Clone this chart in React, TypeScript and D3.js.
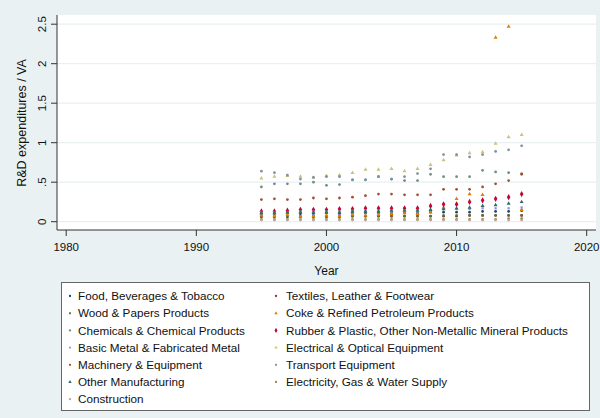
import * as d3 from "d3";

const years = [1995, 1996, 1997, 1998, 1999, 2000, 2001, 2002, 2003, 2004, 2005, 2006, 2007, 2008, 2009, 2010, 2011, 2012, 2013, 2014, 2015];

const food = [0.10, 0.10, 0.11, 0.10, 0.10, 0.11, 0.10, 0.11, 0.11, 0.11, 0.11, 0.11, 0.11, 0.12, 0.12, 0.12, 0.12, 0.13, 0.13, 0.13, 0.14];
const textiles = [0.06, 0.06, 0.06, 0.06, 0.06, 0.06, 0.06, 0.07, 0.07, 0.07, 0.07, 0.07, 0.07, 0.07, 0.07, 0.07, 0.08, 0.08, 0.08, 0.08, 0.08];
const wood = [0.07, 0.07, 0.07, 0.07, 0.07, 0.07, 0.07, 0.07, 0.07, 0.07, 0.07, 0.07, 0.07, 0.07, 0.08, 0.08, 0.08, 0.08, 0.08, 0.08, 0.08];
const coke = [0.08, 0.07, 0.09, 0.06, 0.07, 0.08, 0.07, 0.09, 0.08, 0.09, 0.10, 0.11, 0.10, 0.12, 0.18, 0.29, 0.35, 0.34, 2.33, 2.47, 0.15];
const chemicals = [0.44, 0.48, 0.48, 0.48, 0.50, 0.46, 0.47, 0.53, 0.53, 0.57, 0.54, 0.52, 0.52, 0.60, 0.57, 0.57, 0.57, 0.65, 0.63, 0.62, 0.61];
const rubber = [0.13, 0.13, 0.14, 0.15, 0.15, 0.15, 0.16, 0.16, 0.17, 0.17, 0.17, 0.17, 0.17, 0.20, 0.22, 0.22, 0.25, 0.27, 0.29, 0.31, 0.35];
const basicMetal = [0.12, 0.12, 0.12, 0.13, 0.13, 0.13, 0.13, 0.14, 0.14, 0.14, 0.14, 0.14, 0.14, 0.15, 0.16, 0.16, 0.16, 0.17, 0.17, 0.17, 0.18];
const electrical = [0.55, 0.57, 0.58, 0.57, 0.56, 0.58, 0.59, 0.62, 0.66, 0.66, 0.67, 0.64, 0.67, 0.72, 0.78, 0.84, 0.87, 0.88, 0.99, 1.07, 1.10];
const machinery = [0.28, 0.29, 0.28, 0.28, 0.30, 0.29, 0.30, 0.31, 0.33, 0.35, 0.35, 0.34, 0.34, 0.34, 0.41, 0.41, 0.41, 0.44, 0.48, 0.52, 0.60];
const transport = [0.64, 0.62, 0.59, 0.54, 0.56, 0.57, 0.57, 0.53, 0.53, 0.57, 0.54, 0.57, 0.61, 0.67, 0.85, 0.85, 0.82, 0.85, 0.89, 0.91, 0.96];
const otherManuf = [0.11, 0.11, 0.12, 0.12, 0.12, 0.12, 0.12, 0.13, 0.13, 0.13, 0.14, 0.14, 0.14, 0.15, 0.16, 0.17, 0.18, 0.20, 0.21, 0.23, 0.25];
const electricity = [0.03, 0.03, 0.03, 0.03, 0.03, 0.03, 0.03, 0.03, 0.03, 0.03, 0.03, 0.03, 0.03, 0.03, 0.03, 0.03, 0.03, 0.03, 0.03, 0.04, 0.04];
const construction = [0.02, 0.02, 0.02, 0.02, 0.02, 0.02, 0.02, 0.02, 0.02, 0.02, 0.02, 0.02, 0.02, 0.02, 0.02, 0.02, 0.02, 0.02, 0.02, 0.02, 0.02];

const xTicks = [1980, 1990, 2000, 2010, 2020];
const yTicks = [0, 0.5, 1, 1.5, 2, 2.5];
const yTickLabels = ["0", ".5", "1", "1.5", "2", "2.5"];

const series = [
	{ name: "Food, Beverages & Tobacco", values: food, color: "#1a476f", shape: "circle" },
	{ name: "Textiles, Leather & Footwear", values: textiles, color: "#90353b", shape: "circle" },
	{ name: "Wood & Papers Products", values: wood, color: "#55752f", shape: "square" },
	{ name: "Coke & Refined Petroleum Products", values: coke, color: "#e37e00", shape: "triangle" },
	{ name: "Chemicals & Chemical Products", values: chemicals, color: "#6e8e84", shape: "circle" },
	{ name: "Rubber & Plastic, Other Non-Metallic Mineral Products", values: rubber, color: "#c10534", shape: "diamond" },
	{ name: "Basic Metal & Fabricated Metal", values: basicMetal, color: "#938dd2", shape: "square" },
	{ name: "Electrical & Optical Equipment", values: electrical, color: "#cac27e", shape: "triangle" },
	{ name: "Machinery & Equipment", values: machinery, color: "#a0522d", shape: "circle" },
	{ name: "Transport Equipment", values: transport, color: "#7b92a8", shape: "circle" },
	{ name: "Other Manufacturing", values: otherManuf, color: "#2d6d66", shape: "triangle" },
	{ name: "Electricity, Gas & Water Supply", values: electricity, color: "#9c8847", shape: "circle" },
	{ name: "Construction", values: construction, color: "#bfa19c", shape: "circle" },
];

const symbolTypes: any = {
	circle: d3.symbolCircle,
	diamond: d3.symbolDiamond,
	square: d3.symbolSquare,
	triangle: d3.symbolTriangle,
};
const symbolSizes: any = { circle: 6, diamond: 11, square: 5, triangle: 7 };

function App() {
	const width = 600;
	const height = 418;
	const left = 57;
	const right = 596;
	const top = 15;
	const bottom = 230;
	const font = "'Liberation Sans', Arial, sans-serif";

	const x = d3.scaleLinear().domain([1980, 2020]).range([66.2, 586.7]);
	const y = d3.scaleLinear().domain([0, 2.5]).range([221.7, 24.2]);

	const sym = (shape: string, scale = 1) =>
		d3.symbol().type(symbolTypes[shape]).size(symbolSizes[shape] * scale)() as string;

	const legendRow = 17.2;

	return (
		<svg
			width={width}
			height={height}
			style={{ position: "absolute", left: 0, top: 0 }}
			fontFamily={font}
		>
			<rect width={width} height={height} fill="#eaf1f3" />
			<rect x={left} y={top} width={right - left} height={bottom - top} fill="#fff" />
			{yTicks.map((t) => (
				<line key={t} x1={left} x2={right} y1={y(t)} y2={y(t)} stroke="#e9f0f2" strokeWidth={1.2} />
			))}
			<g>
				{series.map((s) => (
					<g key={s.name} fill={s.color}>
						{s.values.map((v, i) => (
							<path
								key={i}
								d={sym(s.shape)}
								transform={`translate(${x(years[i])},${y(v)})`}
							/>
						))}
					</g>
				))}
			</g>
			{/* axes */}
			<line x1={left} x2={left} y1={top} y2={bottom} stroke="#333" />
			<line x1={left} x2={right} y1={bottom} y2={bottom} stroke="#333" />
			{yTicks.map((t, i) => (
				<g key={t}>
					<line x1={left - 6} x2={left} y1={y(t)} y2={y(t)} stroke="#333" />
					<text
						transform={`translate(46,${y(t)}) rotate(-90)`}
						textAnchor="middle"
						fontSize={11.5}
						fill="#111"
					>
						{yTickLabels[i]}
					</text>
				</g>
			))}
			{xTicks.map((t) => (
				<g key={t}>
					<line x1={x(t)} x2={x(t)} y1={bottom} y2={bottom + 6} stroke="#333" />
					<text x={x(t)} y={251} textAnchor="middle" fontSize={11.5} fill="#111">
						{t}
					</text>
				</g>
			))}
			<text x={(x(1980) + x(2020)) / 2} y={275} textAnchor="middle" fontSize={12} fill="#111">
				Year
			</text>
			<text
				transform={`translate(26,${(y(0) + y(2.5)) / 2}) rotate(-90)`}
				textAnchor="middle"
				fontSize={12.5}
				fill="#111"
			>
				R&D expenditures / VA
			</text>
			{/* legend */}
			<rect x={61.5} y={282.5} width={528} height={128} fill="#fff" stroke="#666" />
			{series.map((s, i) => {
				const col = i % 2;
				const row = Math.floor(i / 2);
				const cy = 296 + row * legendRow;
				const mx = col === 0 ? 70 : 276;
				const tx = col === 0 ? 78 : 286;
				return (
					<g key={s.name}>
						<path d={sym(s.shape, 0.7)} transform={`translate(${mx},${cy})`} fill={s.color} />
						<text x={tx} y={cy + 4.2} fontSize={11.7} fill="#111">
							{s.name}
						</text>
					</g>
				);
			})}
		</svg>
	);
}

export default App;
